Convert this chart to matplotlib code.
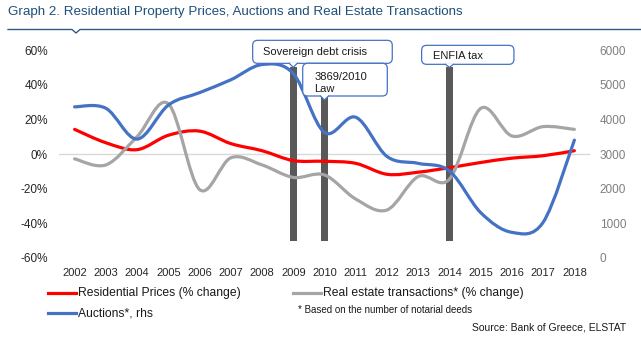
import matplotlib
matplotlib.use("Agg")
import matplotlib.pyplot as plt
from matplotlib.lines import Line2D
from matplotlib.patches import FancyBboxPatch, PathPatch, Polygon
from matplotlib.path import Path
from matplotlib.transforms import IdentityTransform

plt.rcParams["font.family"] = ["Liberation Sans", "DejaVu Sans"]

years = [str(y) for y in range(2002, 2019)]
house_prices = [14.2, 6.5, 2.5, 10.8, 13.2, 6.0, 1.9, -3.8, -4.2, -5.4,
                -11.7, -10.5, -7.9, -4.9, -2.4, -1.0, 1.9]
transactions = [-2.8, -6.3, 10.0, 29.0, -20.5, -2.2, -6.3, -13.5, -12.1, -26.0,
                -32.3, -13.0, -14.5, 26.3, 10.4, 15.8, 14.2]
auctions = [4360, 4320, 3430, 4410, 4770, 5140, 5580, 5320, 3620, 4060,
            2930, 2730, 2510, 1310, 740, 1030, 3400]

event_years = ["2009", "2010", "2014"]
event_top = 50
event_bottom = -50

RED = "#FF0000"
GREY = "#A5A5A5"
BLUE = "#4472C4"
NAVY = "#2E5C8A"
W, H = 641, 347


def smooth_path(xs, ys, t=1 / 6):
    # cubic bezier through every point, tangents from the neighbours
    verts = [(xs[0], ys[0])]
    codes = [Path.MOVETO]
    n = len(xs)
    for i in range(n - 1):
        xa, ya = (xs[i - 1], ys[i - 1]) if i > 0 else (xs[i], ys[i])
        xb, yb = (xs[i + 2], ys[i + 2]) if i + 2 < n else (xs[i + 1], ys[i + 1])
        c1 = (xs[i] + (xs[i + 1] - xa) * t, ys[i] + (ys[i + 1] - ya) * t)
        c2 = (xs[i + 1] - (xb - xs[i]) * t, ys[i + 1] - (yb - ys[i]) * t)
        verts += [c1, c2, (xs[i + 1], ys[i + 1])]
        codes += [Path.CURVE4] * 3
    return Path(verts, codes)


def draw_series(axis, values, color):
    xs = list(range(len(values)))
    patch = PathPatch(smooth_path(xs, values), fill=False, ec=color, lw=2.3,
                      capstyle="round", joinstyle="round", zorder=3)
    axis.add_patch(patch)


def px(x, y):
    # figure pixel position, measured from the top left corner
    return x, H - y


def callout(fig, tip, left, right, top, bottom, lines, text_x, text_y):
    tx, ty = tip
    x0, y0 = px(left, bottom)
    box = FancyBboxPatch((x0, y0), right - left, bottom - top,
                         boxstyle="round,pad=0,rounding_size=5",
                         transform=IdentityTransform(), fc="white",
                         ec=BLUE, lw=0.9, zorder=5)
    fig.add_artist(box)
    by = H - bottom
    notch = Polygon([(tx - 4, by + 1), (tx - 4, by), (tx, H - ty), (tx + 4, by),
                     (tx + 4, by + 1)], transform=IdentityTransform(),
                    fc="white", ec="none", zorder=6)
    fig.add_artist(notch)
    fig.add_artist(Line2D([tx - 4, tx, tx + 4], [by, H - ty, by],
                          transform=IdentityTransform(), color=BLUE, lw=0.9,
                          zorder=6))
    for k, line in enumerate(lines):
        fig.text(text_x, H - (text_y + 12 * k), line, transform=IdentityTransform(),
                 fontsize=8, color="#1A1A1A", va="center", ha="left", zorder=7)


fig = plt.figure(figsize=(6.41, 3.47), dpi=100)
ax = fig.add_axes([59 / W, 1 - 258 / H, (590 - 59) / W, 208 / H])
ax2 = ax.twinx()

x = list(range(len(years)))
ax.bar([years.index(y) for y in event_years], event_top - event_bottom,
       bottom=event_bottom, width=0.23, color="#595959", zorder=1)
ax.axhline(0, color="#D9D9D9", lw=1, zorder=0.5)

draw_series(ax, house_prices, RED)
draw_series(ax, transactions, GREY)
draw_series(ax2, auctions, BLUE)

ax.set_xlim(-0.5, len(years) - 0.5)
ax.set_ylim(-60, 60)
ax2.set_ylim(0, 6000)
ax.set_xticks(x)
ax.set_xticklabels(years)
ax.set_yticks(range(-60, 61, 20))
ax.set_yticklabels([f"{v}%" for v in range(-60, 61, 20)])
ax2.set_yticks(range(0, 6001, 1000))
ax.tick_params(axis="x", length=0, pad=7, labelsize=8, labelcolor="#262626")
ax.tick_params(axis="y", length=0, pad=8, labelsize=8.5, labelcolor="#262626")
ax2.tick_params(axis="y", length=0, pad=7, labelsize=8.5, labelcolor="#7F7F7F")
for a in (ax, ax2):
    for s in a.spines.values():
        s.set_visible(False)
ax.patch.set_visible(False)

# event callouts, anchored on the top of each bar
fig.canvas.draw()
tips = {}
for y in event_years:
    dx, dy = ax.transData.transform((years.index(y), event_top))
    tips[y] = (dx, H - dy)
tx, ty = tips["2009"]
callout(fig, (tx, ty), tx - 40.6, tx + 99, ty - 27, ty - 4,
        ["Sovereign debt crisis"], tx - 30, ty - 15.5)
tx = tips["2010"][0]
callout(fig, (tx, 100), tx - 21.8, tx + 62.8, 63.3, 96,
        ["3869/2010", "Law"], tx - 10.2, 77)
tx, ty = tips["2014"]
callout(fig, (tx, ty), tx - 27.8, tx + 64.5, ty - 22, ty - 3,
        ["ENFIA tax"], tx - 16.8, ty - 11)

# title and rule
fig.text(8 / W, 1 - 12 / H, "Graph 2. Residential Property Prices, Auctions and Real Estate Transactions",
         fontsize=9.65, color="#1F4E79", va="center", ha="left")
fig.add_artist(Line2D([8, 72, 76, 80, W], [H - 29.5, H - 29.5, H - 33, H - 29.5, H - 29.5],
                      transform=IdentityTransform(), color=NAVY, lw=1))

# legend
legend_items = [
    ("Residential Prices (% change)", RED, 48, 293),
    ("Real estate transactions* (% change)", GREY, 293, 293),
    ("Auctions*, rhs", BLUE, 48, 313),
]
for label, color, lx, ly in legend_items:
    fig.add_artist(Line2D([lx, lx + 28], [H - ly, H - ly], transform=IdentityTransform(),
                          color=color, lw=2.3))
    fig.text(lx + 30, H - ly, label, transform=IdentityTransform(), fontsize=8.7,
             color="#1A1A1A", va="center", ha="left")
fig.text(298, H - 310, "* Based on the number of notarial deeds", transform=IdentityTransform(),
         fontsize=7, color="#1A1A1A", va="center", ha="left")
fig.text(626, H - 328, "Source: Bank of Greece, ELSTAT", transform=IdentityTransform(),
         fontsize=7.5, color="#1A1A1A", va="center", ha="right")

fig.savefig("out.png", dpi=100)
